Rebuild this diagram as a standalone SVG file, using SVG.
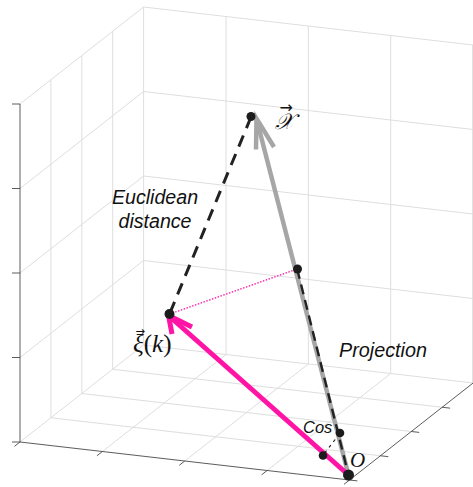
<svg xmlns="http://www.w3.org/2000/svg" width="473" height="487" viewBox="0 0 473 487">
<style>
.grid{stroke:#dedede;stroke-width:1;fill:none}
.axis{stroke:#4a4a4a;stroke-width:0.9;fill:none}
.lbl{font-family:"Liberation Sans",Arial,sans-serif;font-style:italic;fill:#111}
.math{font-family:"Liberation Serif","DejaVu Serif",serif;fill:#111}
.vec{font-family:"DejaVu Sans",sans-serif;font-style:normal}
.dot{fill:#1c1c1c}
</style>
<rect width="473" height="487" fill="#fff"/>
<g id="grid">
<path class="grid" d="M20,442 L143.6,345 M102.4,451.5 L226,354.5 M184.75,461 L308.35,364 M267.1,470.5 L390.7,373.5
M50.9,417.75 L380.4,455.75 M81.8,393.5 L411.3,431.5 M112.7,369.25 L442.2,407.25 M143.6,345 L473.1,383"/>
<path class="grid" d="M50.9,417.75 V79.75 M81.8,393.5 V55.5 M112.7,369.25 V31.25 M143.6,345 V7
M20,357.5 L143.6,260.5 M20,273 L143.6,176 M20,188.5 L143.6,91.5 M20,104 L143.6,7"/>
<path class="grid" d="M226,354.5 V16.5 M308.35,364 V26 M390.7,373.5 V35.5 M472.6,383 V45
M143.6,260.5 L473.1,298.5 M143.6,176 L473.1,214 M143.6,91.5 L473.1,129.5 M143.6,7 L473.1,45"/>
</g>
<g id="axes">
<path class="axis" d="M20,104 V442 M12,442 H20 M12,357.5 H20 M12,273 H20 M12,188.5 H20 M12,104 H20"/>
<path class="axis" d="M20,442 L349.5,480 M20,442 l-5.5,4.3 M102.4,451.5 l-5.5,4.3 M184.75,461 l-5.5,4.3 M267.1,470.5 l-5.5,4.3 M349.5,480 l-5.5,4.3"/>
<path class="axis" d="M349.5,480 L473.1,383 M349.5,480 l7.9,0.9 M380.4,455.75 l7.9,0.9 M411.3,431.5 l7.9,0.9 M442.2,407.25 l7.9,0.9"/>
</g>
<g id="connectors">
<line id="proj-vector" x1="348.5" y1="475" x2="256.5" y2="119" stroke="#a6a6a6" stroke-width="4.5"/>
<polyline points="256,149.5 256.5,118.5 274,147" fill="none" stroke="#a6a6a6" stroke-width="4.5" stroke-linejoin="miter"/>
<line id="proj-dash" x1="297.2" y1="269" x2="348.5" y2="475" stroke="#222" stroke-width="2.4" stroke-dasharray="10 6"/>
<line id="euclid" x1="251" y1="117" x2="169.5" y2="314" stroke="#222" stroke-width="3" stroke-dasharray="12 8"/>
<line id="perp" x1="169.5" y1="314" x2="297.5" y2="269" stroke="#ff14a6" stroke-width="1.3" stroke-dasharray="1.5 1.5"/>
<line id="xi-vector" x1="348.5" y1="475" x2="169" y2="316" stroke="#ff14a6" stroke-width="5"/>
<polyline points="172,334 168.5,315.5 192,327" fill="none" stroke="#ff14a6" stroke-width="5" stroke-linejoin="miter"/>
<line id="cos-arc" x1="339.5" y1="434" x2="323" y2="455" stroke="#222" stroke-width="1.2" stroke-dasharray="3 4"/>
</g>
<g id="node-x">
<circle class="dot" cx="251" cy="116.5" r="4.5"/>
<text class="math" font-size="22"><tspan class="vec" x="279.5" y="113" font-size="16">→</tspan><tspan x="275" y="129" font-style="italic">𝒳</tspan></text>
</g>
<g id="node-xi">
<circle class="dot" cx="169.5" cy="314" r="5"/>
<text class="math" font-size="25"><tspan class="vec" x="135.5" y="334.5" font-size="11.5">→</tspan><tspan x="133" y="352" font-style="italic">ξ</tspan>(<tspan font-style="italic">k</tspan>)</text>
</g>
<g id="node-proj">
<circle class="dot" cx="297.5" cy="269" r="4.5"/>
</g>
<g id="node-cos">
<circle class="dot" cx="340" cy="433" r="4.3"/>
<circle class="dot" cx="323" cy="455.5" r="4.3"/>
<text class="lbl" x="303" y="433" font-size="16.5">Cos</text>
</g>
<g id="node-o">
<circle class="dot" cx="348.5" cy="475" r="5.5"/>
<text class="math" x="350" y="467" font-size="21" font-style="italic">O</text>
</g>
<g id="labels">
<text class="lbl" x="155" y="204" font-size="19.6" text-anchor="middle">Euclidean</text>
<text class="lbl" x="155" y="228" font-size="19.6" text-anchor="middle">distance</text>
<text class="lbl" x="339" y="357" font-size="19.8">Projection</text>
</g>
</svg>
